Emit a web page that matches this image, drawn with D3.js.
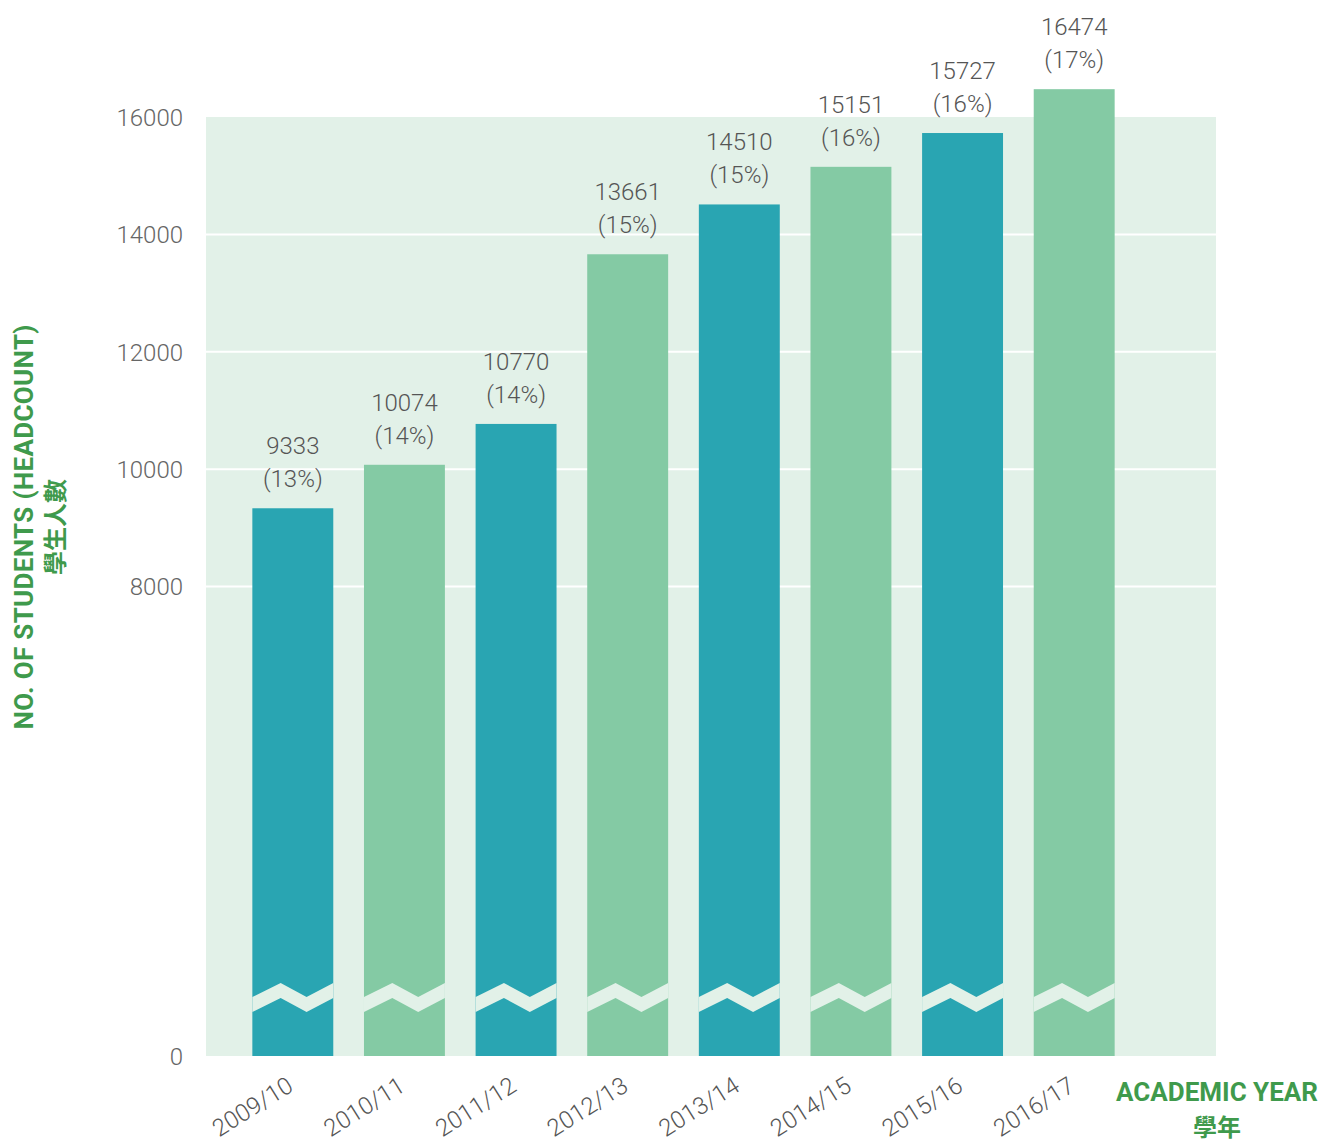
<!DOCTYPE html>
<meta charset="utf-8">
<style>
  body { margin: 0; background: #fff; }
  svg text { font-family: Roboto, "DejaVu Sans", sans-serif; }
  .tick text { font-size: 24px; fill: #666; font-weight: 300; }
  .val { font-size: 24px; fill: #555; font-weight: 300; text-anchor: middle; }
  .xlab { font-size: 24px; fill: #555; font-weight: 300; text-anchor: end; }
  .ttl { fill: #3f9a4c; font-weight: 700; font-size: 26px; text-anchor: middle; }
  .ttl-cjk { fill: #3f9a4c; font-family: "Noto Sans CJK TC", sans-serif; font-weight: 700; font-size: 24px; text-anchor: middle; }
</style>
<svg width="1338" height="1144"></svg>
<script src="https://cdn.jsdelivr.net/npm/d3@7"></script>
<script>
  const years = ["2009/10", "2010/11", "2011/12", "2012/13", "2013/14", "2014/15", "2015/16", "2016/17"];
  const students = [9333, 10074, 10770, 13661, 14510, 15151, 15727, 16474];
  const shares = [13, 14, 14, 15, 15, 16, 16, 17];
  const yTicks = [0, 8000, 10000, 12000, 14000, 16000];
  const gridTicks = [8000, 10000, 12000, 14000];
  const colors = ["#29a5b2", "#84caa4"];

  const svg = d3.select("svg");
  const plot = {left: 206, right: 1216, top: 117, bottom: 1056};

  const x = d3.scaleBand()
    .domain(years)
    .range([237, 1130])
    .paddingInner(0.275)
    .paddingOuter(0.1375);

  const y = d3.scaleLinear()
    .domain([0, 16000])
    .range([plot.bottom, plot.top]);

  // background
  svg.append("rect")
    .attr("x", plot.left).attr("y", plot.top)
    .attr("width", plot.right - plot.left)
    .attr("height", plot.bottom - plot.top)
    .attr("fill", "#e2f1e8");

  // white grid lines (only above the break)
  svg.selectAll(".grid")
    .data(gridTicks)
    .enter().append("line")
    .attr("x1", plot.left).attr("x2", plot.right)
    .attr("y1", d => y(d)).attr("y2", d => y(d))
    .attr("stroke", "#fff").attr("stroke-width", 2);

  // y axis labels
  const yAxis = d3.axisLeft(y).tickValues(yTicks).tickSize(0).tickPadding(0).tickFormat(d3.format("d"));
  const ga = svg.append("g")
    .attr("transform", "translate(183,0)")
    .call(yAxis);
  ga.select(".domain").remove();
  ga.selectAll(".tick text").attr("font-family", null).attr("font-size", null).attr("dy", "0.35em");

  // bars
  svg.selectAll(".bar")
    .data(students)
    .enter().append("rect")
    .attr("x", (d, i) => x(years[i]))
    .attr("y", d => y(d))
    .attr("width", x.bandwidth())
    .attr("height", d => plot.bottom - y(d))
    .attr("fill", (d, i) => colors[i % 2]);

  // axis break zigzag band
  const bw = x.bandwidth();
  svg.selectAll(".brk")
    .data(years)
    .enter().append("path")
    .attr("fill", "#e2f1e8")
    .attr("d", d => {
      const x0 = x(d), top = 997, h = 15, a = 14;
      const pts = [
        [x0, top], [x0 + bw * 0.35, top - a], [x0 + bw * 0.67, top], [x0 + bw, top - a],
        [x0 + bw, top - a + h], [x0 + bw * 0.67, top + h], [x0 + bw * 0.35, top - a + h], [x0, top + h]
      ];
      return "M" + pts.map(p => p.join(",")).join("L") + "Z";
    });

  // value labels
  const lab = svg.selectAll(".lab")
    .data(students)
    .enter().append("g")
    .attr("transform", (d, i) => "translate(" + (x(years[i]) + bw / 2) + "," + y(d) + ")");
  lab.append("text").attr("class", "val").attr("y", -54).text(d => d);
  lab.append("text").attr("class", "val").attr("y", -21).text((d, i) => "(" + shares[i] + "%)");

  // x labels
  svg.selectAll(".xlab")
    .data(years)
    .enter().append("text")
    .attr("class", "xlab")
    .attr("transform", d => "translate(" + (x(d) + bw / 2 + 2) + ",1090) rotate(-32)")
    .text(d => d);

  // axis titles
  svg.append("text").attr("class", "ttl")
    .attr("transform", "translate(33,527) rotate(-90)")
    .attr("textLength", 405)
    .text("NO. OF STUDENTS (HEADCOUNT)");
  svg.append("text").attr("class", "ttl-cjk")
    .attr("transform", "translate(64,527) rotate(-90)")
    .text("學生人數");

  svg.append("text").attr("class", "ttl")
    .attr("x", 1217).attr("y", 1101)
    .attr("font-size", 25)
    .text("ACADEMIC YEAR");
  svg.append("text").attr("class", "ttl-cjk")
    .attr("x", 1217).attr("y", 1136)
    .attr("font-size", 22)
    .text("學年");
</script>
